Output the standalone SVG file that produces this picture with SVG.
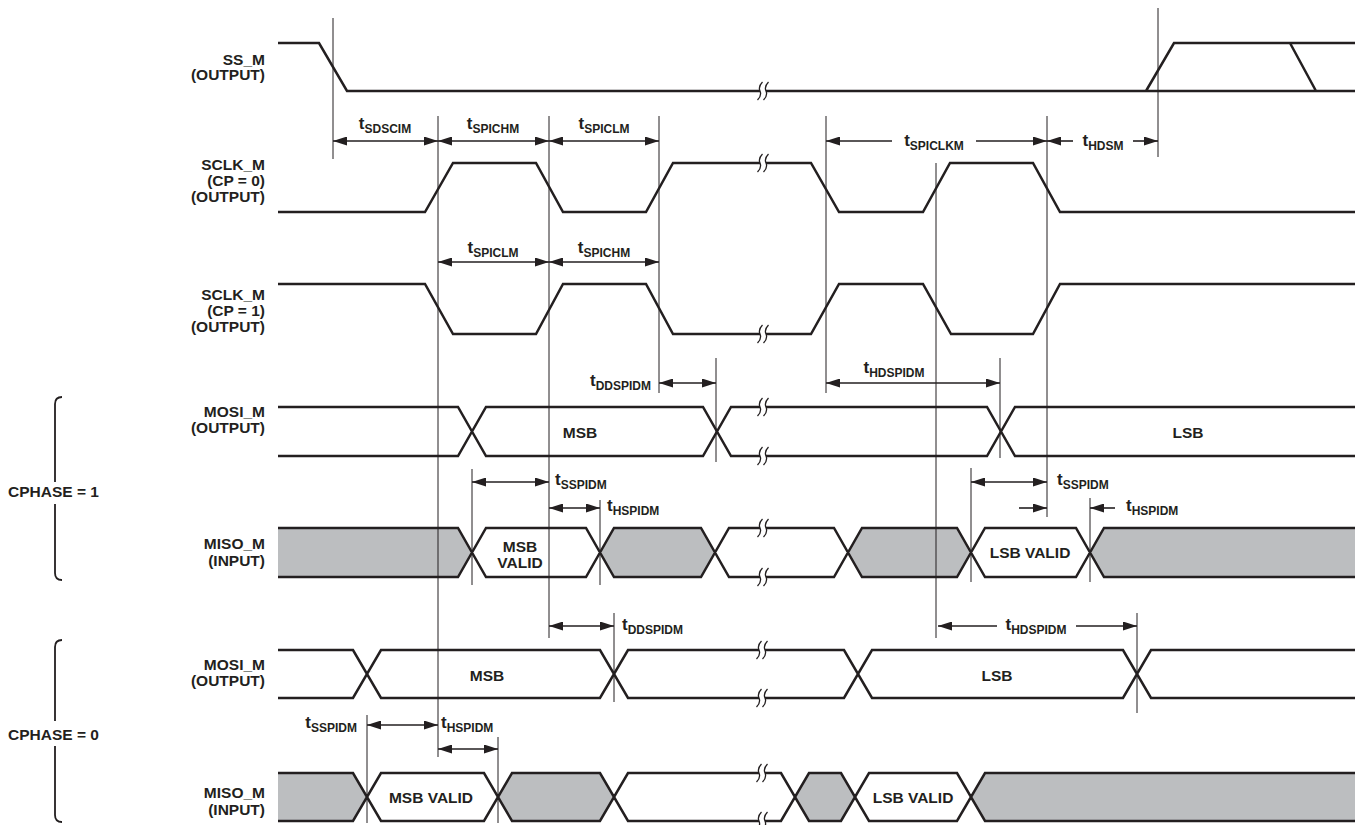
<svg xmlns="http://www.w3.org/2000/svg" width="1366" height="825" viewBox="0 0 1366 825">
<style>
.sig{fill:none;stroke:#231f20;stroke-width:2.5;stroke-linejoin:miter}
.fillg{fill:#bcbec0;stroke:none}
.vl{stroke:#231f20;stroke-width:1;fill:none}
.arr{stroke:#231f20;stroke-width:1.6;fill:none}
.lbl{font-family:"Liberation Sans",Arial,sans-serif;font-weight:bold;font-size:15.5px;fill:#231f20}
.t{font-family:"Liberation Sans",Arial,sans-serif;font-weight:bold;font-size:17px;fill:#231f20}
.sub{font-size:12px}
.brk{fill:none;stroke:#231f20;stroke-width:1.3}
.brace{fill:none;stroke:#231f20;stroke-width:1.8}
</style>
<defs>
<marker id="ah" viewBox="0 0 14 9" refX="14" refY="4.5" markerWidth="14" markerHeight="9" markerUnits="userSpaceOnUse" orient="auto-start-reverse"><path d="M0,0 L14,4.5 L0,9 Z" fill="#231f20"/></marker>
<path id="brk" d="M-0.5,-9 Q-5,-4.5 -3,0 Q-1,4.5 -5.5,9 M5.5,-9 Q1,-4.5 3,0 Q5,4.5 0.5,9"/>
</defs>
<rect width="1366" height="825" fill="#ffffff"/>

<!-- grey fills -->
<g id="fills">
<polygon class="fillg" points="278,528 458,528 472,552.5 458,577 278,577"/>
<polygon class="fillg" points="600,552.5 614,528 701,528 715,552.5 701,577 614,577"/>
<polygon class="fillg" points="848,552.5 862,528 957,528 971,552.5 957,577 862,577"/>
<polygon class="fillg" points="1090,552.5 1104,528 1355,528 1355,577 1104,577"/>
<polygon class="fillg" points="278,773 353,773 367,797 353,821 278,821"/>
<polygon class="fillg" points="498,797 512,773 600,773 614,797 600,821 512,821"/>
<polygon class="fillg" points="795,797 809,773 841,773 855,797 841,821 809,821"/>
<polygon class="fillg" points="971,797 985,773 1355,773 1355,821 985,821"/>
</g>

<!-- connectors: reference lines and timing arrows -->
<g id="connectors">
<path class="vl" d="M333,18V159 M438,116V757 M549,116V638 M659,116V393 M716,358V462 M826,116V393 M936,163V638 M1000,358V458 M1047,116V517 M1158,8V157 M472,469V585 M600,500V585 M971,468V582 M1090,498V582 M367,715V823 M498,737V823 M614,613V702 M1137,613V713"/>
<g class="arr">
<line x1="333" y1="141" x2="438" y2="141" marker-start="url(#ah)" marker-end="url(#ah)"/>
<line x1="438" y1="141" x2="549" y2="141" marker-start="url(#ah)" marker-end="url(#ah)"/>
<line x1="549" y1="141" x2="659" y2="141" marker-start="url(#ah)" marker-end="url(#ah)"/>
<line x1="892" y1="141" x2="826" y2="141" marker-end="url(#ah)"/>
<line x1="976" y1="141" x2="1047" y2="141" marker-end="url(#ah)"/>
<line x1="1073" y1="141" x2="1047" y2="141" marker-end="url(#ah)"/>
<line x1="1133" y1="141" x2="1158" y2="141" marker-end="url(#ah)"/>
<line x1="438" y1="262" x2="549" y2="262" marker-start="url(#ah)" marker-end="url(#ah)"/>
<line x1="549" y1="262" x2="659" y2="262" marker-start="url(#ah)" marker-end="url(#ah)"/>
<line x1="659" y1="383" x2="716" y2="383" marker-start="url(#ah)" marker-end="url(#ah)"/>
<line x1="826" y1="383" x2="1000" y2="383" marker-start="url(#ah)" marker-end="url(#ah)"/>
<line x1="472" y1="482" x2="549" y2="482" marker-start="url(#ah)" marker-end="url(#ah)"/>
<line x1="549" y1="508" x2="600" y2="508" marker-start="url(#ah)" marker-end="url(#ah)"/>
<line x1="971" y1="482" x2="1047" y2="482" marker-start="url(#ah)" marker-end="url(#ah)"/>
<line x1="1019" y1="508" x2="1047" y2="508" marker-end="url(#ah)"/>
<line x1="1115" y1="508" x2="1090" y2="508" marker-end="url(#ah)"/>
<line x1="549" y1="626" x2="614" y2="626" marker-start="url(#ah)" marker-end="url(#ah)"/>
<line x1="997" y1="626" x2="938" y2="626" marker-end="url(#ah)"/>
<line x1="1076" y1="626" x2="1137" y2="626" marker-end="url(#ah)"/>
<line x1="367" y1="725" x2="438" y2="725" marker-start="url(#ah)" marker-end="url(#ah)"/>
<line x1="438" y1="749" x2="498" y2="749" marker-start="url(#ah)" marker-end="url(#ah)"/>
</g>
<g id="timing-labels">
<text class="t" x="385" y="129" text-anchor="middle">t<tspan class="sub" dy="3.5">SDSCIM</tspan></text>
<text class="t" x="493" y="129" text-anchor="middle">t<tspan class="sub" dy="3.5">SPICHM</tspan></text>
<text class="t" x="604" y="129" text-anchor="middle">t<tspan class="sub" dy="3.5">SPICLM</tspan></text>
<text class="t" x="934" y="146" text-anchor="middle">t<tspan class="sub" dy="3.5">SPICLKM</tspan></text>
<text class="t" x="1103" y="146" text-anchor="middle">t<tspan class="sub" dy="3.5">HDSM</tspan></text>
<text class="t" x="493" y="253" text-anchor="middle">t<tspan class="sub" dy="3.5">SPICLM</tspan></text>
<text class="t" x="604" y="253" text-anchor="middle">t<tspan class="sub" dy="3.5">SPICHM</tspan></text>
<text class="t" x="651" y="386" text-anchor="end">t<tspan class="sub" dy="3.5">DDSPIDM</tspan></text>
<text class="t" x="894" y="373" text-anchor="middle">t<tspan class="sub" dy="3.5">HDSPIDM</tspan></text>
<text class="t" x="555" y="485">t<tspan class="sub" dy="3.5">SSPIDM</tspan></text>
<text class="t" x="607" y="511">t<tspan class="sub" dy="3.5">HSPIDM</tspan></text>
<text class="t" x="1057" y="485">t<tspan class="sub" dy="3.5">SSPIDM</tspan></text>
<text class="t" x="1126" y="511">t<tspan class="sub" dy="3.5">HSPIDM</tspan></text>
<text class="t" x="622" y="630">t<tspan class="sub" dy="3.5">DDSPIDM</tspan></text>
<text class="t" x="1036" y="630" text-anchor="middle">t<tspan class="sub" dy="3.5">HDSPIDM</tspan></text>
<text class="t" x="357" y="728" text-anchor="end">t<tspan class="sub" dy="3.5">SSPIDM</tspan></text>
<text class="t" x="441" y="728">t<tspan class="sub" dy="3.5">HSPIDM</tspan></text>
</g>
</g>

<g id="ss_m">
<text class="lbl" text-anchor="end"><tspan x="265" y="65">SS_M</tspan><tspan x="265" y="80">(OUTPUT)</tspan></text>
<path class="sig" d="M278,43 H319 L347,91 H760 M766,91 H1355 M1146,91 L1174,43 H1355 M1290,43 L1316,91"/>
<use href="#brk" class="brk" x="763" y="91"/>
</g>

<g id="sclk_m_cp0">
<text class="lbl" text-anchor="end"><tspan x="265" y="170">SCLK_M</tspan><tspan x="265" y="186">(CP = 0)</tspan><tspan x="265" y="202">(OUTPUT)</tspan></text>
<path class="sig" d="M278,212 H425 L453,163 H536 L563,212 H646 L673,163 H760 M766,163 H811 L839,212 H923 L950,163 H1033 L1060,212 H1355"/>
<use href="#brk" class="brk" x="763" y="163"/>
</g>

<g id="sclk_m_cp1">
<text class="lbl" text-anchor="end"><tspan x="265" y="300">SCLK_M</tspan><tspan x="265" y="316">(CP = 1)</tspan><tspan x="265" y="332">(OUTPUT)</tspan></text>
<path class="sig" d="M278,284 H425 L453,334 H536 L563,284 H646 L673,334 H760 M766,334 H811 L839,284 H923 L951,334 H1033 L1060,284 H1355"/>
<use href="#brk" class="brk" x="763" y="334"/>
</g>

<g id="cphase1">
<path class="brace" d="M62,397 Q55,397 55,404 V482 M55,504 V573 Q55,580 62,580"/>
<text class="lbl" x="8" y="497">CPHASE = 1</text>
</g>

<g id="mosi_m_cphase1">
<text class="lbl" text-anchor="end"><tspan x="265" y="417">MOSI_M</tspan><tspan x="265" y="433">(OUTPUT)</tspan></text>
<path class="sig" d="M278,407 H458 L486,456 H703 L731,407 H760 M766,407 H987 L1015,456 H1355 M278,456 H458 L486,407 H703 L731,456 H760 M766,456 H987 L1015,407 H1355"/>
<use href="#brk" class="brk" x="763" y="407"/>
<use href="#brk" class="brk" x="763" y="456"/>
<text class="lbl" x="580" y="438" text-anchor="middle">MSB</text>
<text class="lbl" x="1188" y="438" text-anchor="middle">LSB</text>
</g>

<g id="miso_m_cphase1">
<text class="lbl" text-anchor="end"><tspan x="265" y="549">MISO_M</tspan><tspan x="265" y="566">(INPUT)</tspan></text>
<path class="sig" d="M278,528 H458 L486,577 H586 L614,528 H701 L729,577 H760 M766,577 H834 L862,528 H957 L985,577 H1076 L1104,528 H1355 M278,577 H458 L486,528 H586 L614,577 H701 L729,528 H760 M766,528 H834 L862,577 H957 L985,528 H1076 L1104,577 H1355"/>
<use href="#brk" class="brk" x="763" y="528"/>
<use href="#brk" class="brk" x="763" y="577"/>
<text class="lbl" text-anchor="middle"><tspan x="520" y="552">MSB</tspan><tspan x="520" y="568">VALID</tspan></text>
<text class="lbl" x="1030" y="558" text-anchor="middle">LSB VALID</text>
</g>

<g id="cphase0">
<path class="brace" d="M62,640 Q55,640 55,647 V721 M55,746 V815 Q55,822 62,822"/>
<text class="lbl" x="8" y="740">CPHASE = 0</text>
</g>

<g id="mosi_m_cphase0">
<text class="lbl" text-anchor="end"><tspan x="265" y="670">MOSI_M</tspan><tspan x="265" y="686">(OUTPUT)</tspan></text>
<path class="sig" d="M278,650 H353 L381,698 H600 L628,650 H759 M765,650 H844 L872,698 H1123 L1151,650 H1355 M278,698 H353 L381,650 H600 L628,698 H759 M765,698 H844 L872,650 H1123 L1151,698 H1355"/>
<use href="#brk" class="brk" x="762" y="650"/>
<use href="#brk" class="brk" x="762" y="698"/>
<text class="lbl" x="487" y="681" text-anchor="middle">MSB</text>
<text class="lbl" x="997" y="681" text-anchor="middle">LSB</text>
</g>

<g id="miso_m_cphase0">
<text class="lbl" text-anchor="end"><tspan x="265" y="798">MISO_M</tspan><tspan x="265" y="815">(INPUT)</tspan></text>
<path class="sig" d="M278,773 H353 L381,821 H484 L512,773 H600 L628,821 H759 M765,821 H781 L809,773 H841 L869,821 H957 L985,773 H1355 M278,821 H353 L381,773 H484 L512,821 H600 L628,773 H759 M765,773 H781 L809,821 H841 L869,773 H957 L985,821 H1355"/>
<use href="#brk" class="brk" x="762" y="773"/>
<use href="#brk" class="brk" x="762" y="821"/>
<text class="lbl" x="431" y="803" text-anchor="middle">MSB VALID</text>
<text class="lbl" x="913" y="803" text-anchor="middle">LSB VALID</text>
</g>
</svg>
